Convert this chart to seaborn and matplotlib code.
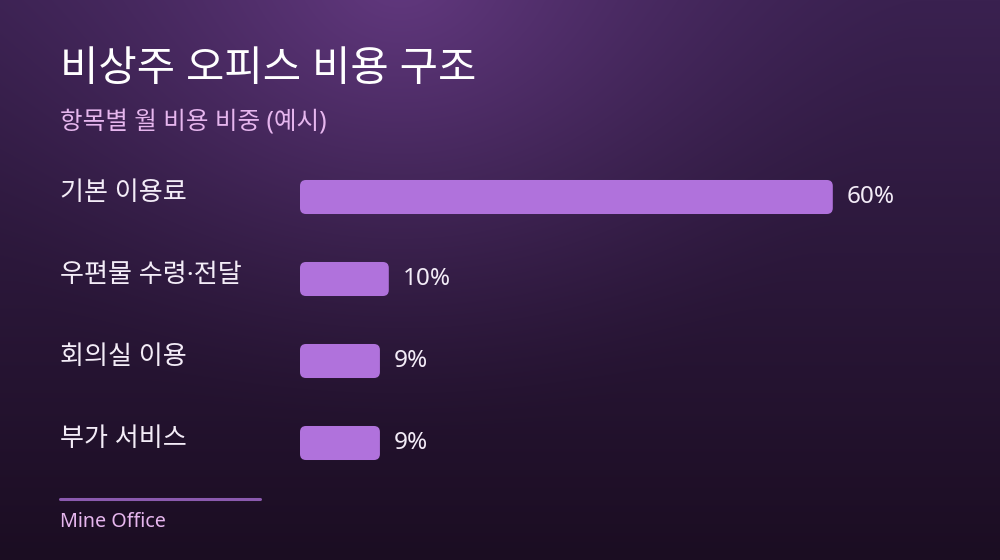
import numpy as np
import pandas as pd
import matplotlib
matplotlib.use("Agg")
import matplotlib.pyplot as plt
import matplotlib.transforms as mtransforms
from matplotlib.patches import FancyBboxPatch
import seaborn as sns

# data
categories = ["기본 이용료", "우편물 수령·전달", "회의실 이용", "부가 서비스"]
shares = [60, 10, 9, 9]
value_labels = ["60%", "10%", "9%", "9%"]

title = "비상주 오피스 비용 구조"
subtitle = "항목별 월 비용 비중 (예시)"
source = "Mine Office"

df = pd.DataFrame({"category": categories, "share": shares})

sns.set_theme(style="white")
plt.rcParams['font.family'] = ['Noto Sans', 'Noto Sans CJK KR', 'DejaVu Sans']

W, H = 1000, 560
fig = plt.figure(figsize=(W / 100, H / 100), dpi=100)

# background: vertical gradient plus a soft glow near the top
bg = fig.add_axes([0, 0, 1, 1])
yy, xx = np.mgrid[0:H, 0:W]
top = np.array([0x3a, 0x21, 0x50]) / 255
bot = np.array([0x1b, 0x0d, 0x22]) / 255
t = (yy / H)[..., None]
img = top * (1 - t) + bot * t
glow = np.array([0x63, 0x39, 0x80]) / 255
d = np.sqrt((xx - 400) ** 2 + ((yy + 30) * 1.1) ** 2)
g = np.clip(1 - d / 520, 0, 1)[..., None] ** 1.6
img = img * (1 - g) + glow * g
bg.imshow(img, aspect="auto", extent=[0, 1, 0, 1], origin="upper")
bg.axis("off")

# main bar axes
ax = fig.add_axes([0.30, 1 - 484 / H, 0.6216, 328 / H])
ax.set_facecolor("none")
sns.barplot(data=df, y="category", x="share", orient="h", color="#b072dc",
            width=0.415, ax=ax, saturation=1)
ax.set_xlim(0, 70)
ax.set_ylim(3.5, -0.5)
ax.axis("off")

# swap plain bars for rounded ones (drawn in pixel space)
fig.canvas.draw()
for p in list(ax.patches):
    bb = p.get_window_extent()
    p.set_visible(False)
    r = 6
    fig.patches.append(FancyBboxPatch((bb.x0 + r, bb.y0 + r), bb.width - 2 * r, bb.height - 2 * r,
                                      boxstyle=f"round,pad={r}", transform=mtransforms.IdentityTransform(),
                                      facecolor="#b072dc", edgecolor="none", figure=fig, zorder=3))

# value labels
for i, (v, lab) in enumerate(zip(shares, value_labels)):
    ax.annotate(lab, (v, i), xytext=(10, 0), textcoords="offset points",
                va="center", ha="left", fontsize=17.5, color="#f3ecf7")

# category labels at left
trans = mtransforms.blended_transform_factory(fig.transFigure, ax.transData)
for i, c in enumerate(categories):
    ax.text(0.06, i - 0.04, c, transform=trans, va="center", ha="left",
            fontsize=18.8, color="#f3ecf7")

fig.text(0.06, 1 - 70 / H, title, fontsize=30, color="white", va="center", ha="left")
fig.text(0.06, 1 - 123 / H, subtitle, fontsize=17.7, color="#e6b6ee", va="center", ha="left")

fig.add_artist(plt.Line2D([0.06, 0.26], [1 - 499 / H, 1 - 499 / H], color="#8b5aaf", lw=2.2))
fig.text(0.06, 1 - 522 / H, source, fontsize=14.2, color="#e6b6ee", va="center", ha="left")

fig.savefig("out.png", dpi=100)
